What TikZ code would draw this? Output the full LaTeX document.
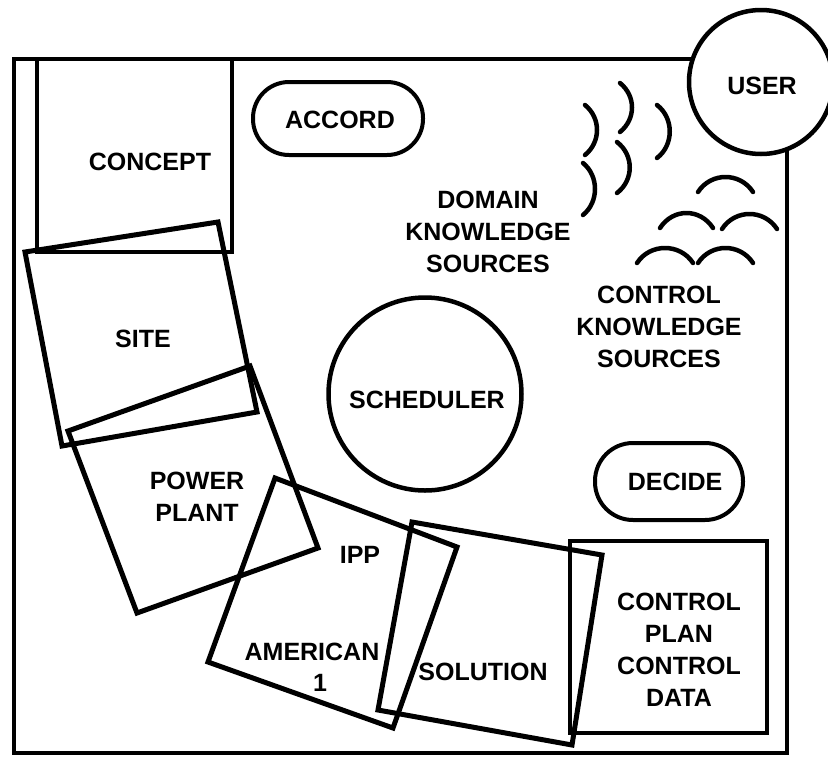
\documentclass[tikz,border=0pt]{standalone}
\usepackage{fontspec}
\setmainfont{Liberation Sans}
\usetikzlibrary{backgrounds}
\begin{document}
\begin{tikzpicture}[x=1pt,y=-1pt,
  frame/.style={line width=4pt},
  sheet/.style={line width=5pt, line join=miter},
  ring/.style={circle, draw, line width=4.5pt, inner sep=0pt, fill=white},
  pill/.style={draw, line width=4pt, inner sep=0pt},
  arcline/.style={line width=4.5pt, line cap=round},
  lab/.style={font=\fontsize{25}{32}\selectfont\bfseries, align=center, inner sep=0pt}]

\useasboundingbox (0,0) rectangle (828,756);
\clip (0,0) rectangle (828,756);

% circles and pills
\node[ring, minimum size=144pt] (user) at (761,82) {};
\node[ring, minimum size=193pt] (sched) at (425,394) {};
\node[pill, rounded corners=36pt, minimum width=170pt, minimum height=73pt] (accord) at (338,118.5) {};
\node[pill, rounded corners=38pt, minimum width=148pt, minimum height=77pt] (decide) at (669,481.5) {};

% outer frame, running into the USER circle
\coordinate (ftl) at (14,59);
\coordinate (fbl) at (14,753);
\coordinate (fbr) at (787,753);
\begin{pgfonlayer}{background}
  \draw[frame] (ftl -| user.center) -- (ftl) -- (fbl) -- (fbr) -- (fbr |- user.center);
\end{pgfonlayer}

% blackboard levels
\draw[frame] (37,59) rectangle (232,252);
\draw[sheet] (25,252) -- (218,222) -- (257,412) -- (62,446) -- cycle;
\draw[sheet] (68,431) -- (250,366) -- (318,548) -- (137,613) -- cycle;
\draw[sheet] (275,478) -- (457,547) -- (393,728) -- (208,662) -- cycle;
\draw[sheet] (412,522) -- (602,555) -- (572,745) -- (378,710) -- cycle;
\draw[frame] (570,541) rectangle (767,733);

% domain knowledge sources
\draw[arcline] (585,105) .. controls +(16,13) and +(16,-13) .. (585,155);
\draw[arcline] (583,163) .. controls +(16,13) and +(16,-13) .. (583,215);
\draw[arcline] (620,83) .. controls +(16,13) and +(16,-13) .. (620,132);
\draw[arcline] (617,142) .. controls +(17,13) and +(17,-13) .. (617,193);
\draw[arcline] (657,105) .. controls +(17,13) and +(17,-13) .. (657,158);

% control knowledge sources
\draw[arcline] (698,192) .. controls +(13,-20) and +(-13,-20) .. (753,192);
\draw[arcline] (660,228) .. controls +(13,-20) and +(-13,-20) .. (713,228);
\draw[arcline] (722,229) .. controls +(13,-20) and +(-13,-20) .. (777,229);
\draw[arcline] (637,263) .. controls +(13,-20) and +(-13,-20) .. (693,263);
\draw[arcline] (698,263) .. controls +(13,-20) and +(-13,-20) .. (753,263);

% labels
\node[lab] (tuser) at (762,86) {USER};
\node[lab] (tsched) at (427,400) {SCHEDULER};
\node[lab] (taccord) at (340,120) {ACCORD};
\node[lab] (tdecide) at (675,482) {DECIDE};
\node[lab] (tconcept) at (150,162) {CONCEPT};
\node[lab] (tsite) at (143,339) {SITE};
\node[lab] (tpower) at (197,497) {POWER\\PLANT};
\node[lab] (tipp) at (360,555) {IPP};
\node[lab] (tamerican) at (312,652) {AMERICAN};
\node[lab] (tone) at (320,683) {1};
\node[lab] (tsolution) at (483,672) {SOLUTION};
\node[lab] (tcplan) at (679,650) {CONTROL\\PLAN\\CONTROL\\DATA};
\node[lab] (tdks) at (488,232) {DOMAIN\\KNOWLEDGE\\SOURCES};
\node[lab] (tcks) at (659,327) {CONTROL\\KNOWLEDGE\\SOURCES};
\end{tikzpicture}
\end{document}
